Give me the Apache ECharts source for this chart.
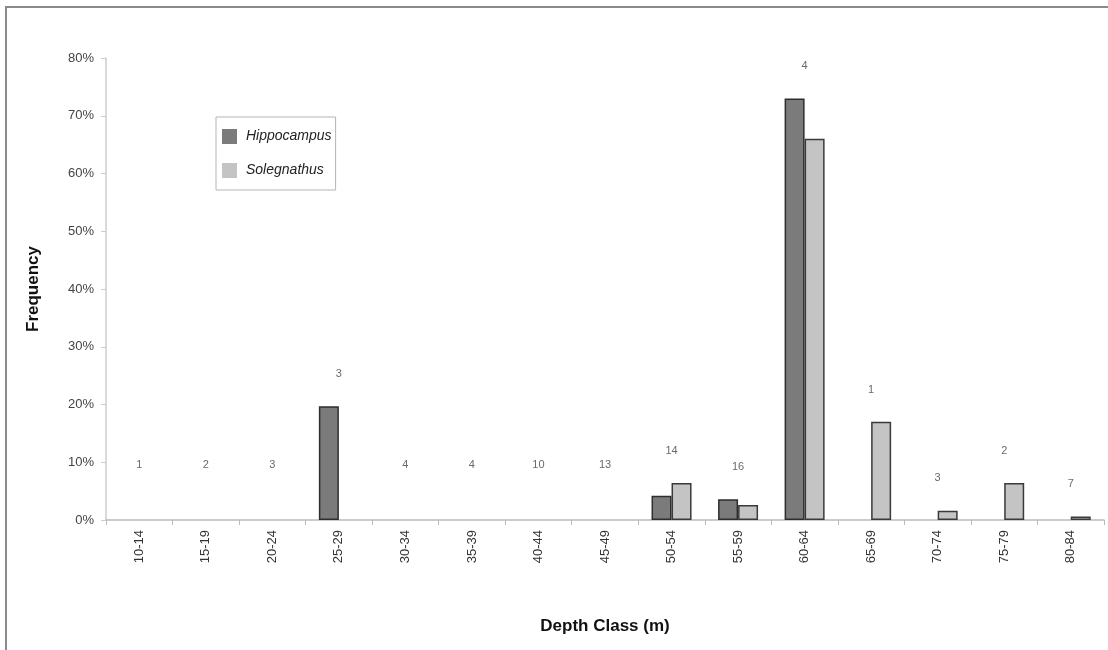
<!DOCTYPE html>
<html>
<head>
<meta charset="utf-8">
<script src="https://cdn.jsdelivr.net/npm/echarts@6/dist/echarts.min.js"></script>
<style>html,body{margin:0;padding:0;background:#fff}#c{width:1108px;height:650px}</style>
</head>
<body>
<div id="c"></div>
<script>
const categories = ['10-14','15-19','20-24','25-29','30-34','35-39','40-44','45-49','50-54','55-59','60-64','65-69','70-74','75-79','80-84'];
const hippocampus = [0,0,0,19.7,0,0,0,0,4.2,3.6,73,0,0,0,0];
const solegnathus = [0,0,0,0,0,0,0,0,6.4,2.6,66,17,1.6,6.4,0.6];
const sampleCounts = [1,2,3,3,4,4,10,13,14,16,4,1,3,2,7];
const yTicks = [0,10,20,30,40,50,60,70,80];

const annotPos = categories.map((c,i)=>{
  const m = Math.max(hippocampus[i], solegnathus[i]);
  return m > 0 ? m + 5.6 : 9.5;
});
const hide0 = arr => arr.map(v => v === 0 ? '-' : v);

const chart = echarts.init(document.getElementById('c'));
const font = 'Liberation Sans, Arial, sans-serif';
chart.setOption({
  backgroundColor:'#fff',
  animation:false,
  graphic:[{type:'rect',shape:{x:6,y:7,width:1120,height:670},style:{fill:'none',stroke:'#8a8a8a',lineWidth:2}}],
  grid:{left:106,right:4,top:58,bottom:130},
  legend:{
    data:[{name:'Hippocampus',icon:'rect'},{name:'Solegnathus',icon:'rect'}],
    orient:'vertical',left:216,top:117,
    borderColor:'#b5b5b5',borderWidth:1,padding:[12,4,12,6],
    itemWidth:15,itemHeight:15,itemGap:19,
    itemStyle:{borderWidth:0},
    textStyle:{fontFamily:font,fontStyle:'italic',fontSize:14,color:'#222',padding:[0,0,0,4]}
  },
  xAxis:{
    type:'category',data:categories,
    axisLine:{lineStyle:{color:'#bbb',width:1.5}},
    axisTick:{show:true,length:5,lineStyle:{color:'#bbb'}},
    axisLabel:{rotate:90,fontFamily:font,fontSize:13,color:'#333',margin:10},
    name:'Depth Class (m)',nameLocation:'middle',nameGap:98,
    nameTextStyle:{fontFamily:font,fontWeight:'bold',fontSize:17,color:'#111'}
  },
  yAxis:{
    type:'value',min:yTicks[0],max:yTicks[yTicks.length-1],interval:10,
    splitLine:{show:false},
    axisLine:{show:true,lineStyle:{color:'#ccc',width:1.5}},
    axisTick:{show:true,length:5,lineStyle:{color:'#ccc'}},
    axisLabel:{formatter:'{value}%',fontFamily:font,fontSize:13,color:'#444',margin:12},
    name:'Frequency',nameLocation:'middle',nameRotate:90,nameGap:64,
    nameTextStyle:{fontFamily:font,fontWeight:'bold',fontSize:17,color:'#111'}
  },
  series:[
    {name:'Hippocampus',type:'bar',data:hide0(hippocampus),barWidth:20,barGap:'0%',
      itemStyle:{color:'#7b7b7b',borderColor:'#2e2e2e',borderWidth:1.5}},
    {name:'Solegnathus',type:'bar',data:hide0(solegnathus),barWidth:20,barGap:'0%',
      itemStyle:{color:'#c4c4c4',borderColor:'#3a3a3a',borderWidth:1.5}},
    {name:'n',type:'scatter',data:annotPos.map((v,i)=>({value:v,label:{formatter:String(sampleCounts[i])}})),
      symbolSize:1,itemStyle:{color:'rgba(0,0,0,0)'},
      label:{show:true,position:'inside',fontFamily:font,fontSize:11,color:'#444'},
      silent:true,z:5}
  ]
});
</script>
</body>
</html>
